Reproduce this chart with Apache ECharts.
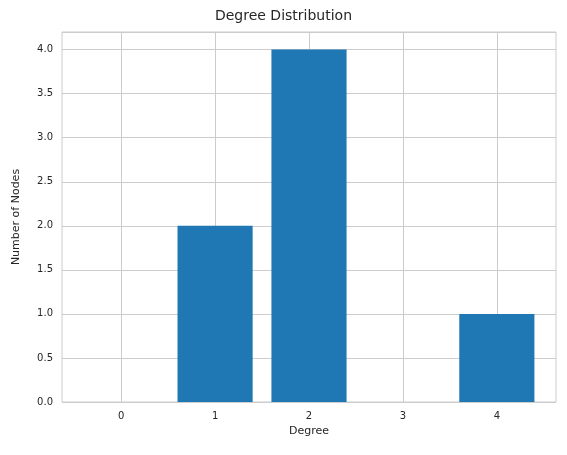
<!DOCTYPE html>
<html>
<head>
<meta charset="utf-8">
<script src="https://cdn.jsdelivr.net/npm/echarts@6/dist/echarts.min.js"></script>
<style>html,body{margin:0;padding:0;background:#fff}#main{width:567px;height:455px}</style>
</head>
<body>
<div id="main"></div>
<script>
const degrees = [0, 1, 2, 3, 4];
const nodeCounts = [0, 2, 4, 0, 1];
const yTicks = [0, 0.5, 1, 1.5, 2, 2.5, 3, 3.5, 4];

const chart = echarts.init(document.getElementById('main'));
const font = 'DejaVu Sans';
chart.setOption({
    animation: false,
    title: {
        text: 'Degree Distribution', left: 'center', top: 4,
        textStyle: { fontFamily: font, fontSize: 14, fontWeight: 'normal', color: '#262626' }
    },
    grid: { left: 62, right: 11, top: 32, bottom: 53, show: true, borderColor: '#cccccc', borderWidth: 1 },
    xAxis: {
        type: 'value', min: -0.63, max: 4.63,
        name: 'Degree', nameLocation: 'middle', nameGap: 22,
        nameTextStyle: { fontFamily: font, fontSize: 11, color: '#262626' },
        axisLine: { show: false }, axisTick: { show: false, customValues: degrees },
        axisLabel: { customValues: degrees, fontFamily: font, fontSize: 10, color: '#262626', margin: 9 },
        splitLine: { show: true, lineStyle: { color: '#cccccc' } }
    },
    yAxis: {
        type: 'value', min: 0, max: 4.2, interval: 0.5,
        name: 'Number of Nodes', nameLocation: 'middle', nameGap: 40,
        nameTextStyle: { fontFamily: font, fontSize: 11, color: '#262626' },
        axisLine: { show: false }, axisTick: { show: false },
        axisLabel: { customValues: yTicks, formatter: v => v.toFixed(1), fontFamily: font, fontSize: 10, color: '#262626', margin: 9 },
        splitLine: { show: true, lineStyle: { color: '#cccccc' } }
    },
    series: [{
        type: 'custom',
        data: degrees.map((d, i) => [d, nodeCounts[i]]),
        renderItem: function (params, api) {
            const x = api.value(0), y = api.value(1);
            const p0 = api.coord([x - 0.4, 0]);
            const p1 = api.coord([x + 0.4, y]);
            return {
                type: 'rect',
                shape: { x: p0[0], y: p1[1], width: p1[0] - p0[0], height: p0[1] - p1[1] },
                style: { fill: '#1f77b4' }
            };
        }
    }]
});
</script>
</body>
</html>
